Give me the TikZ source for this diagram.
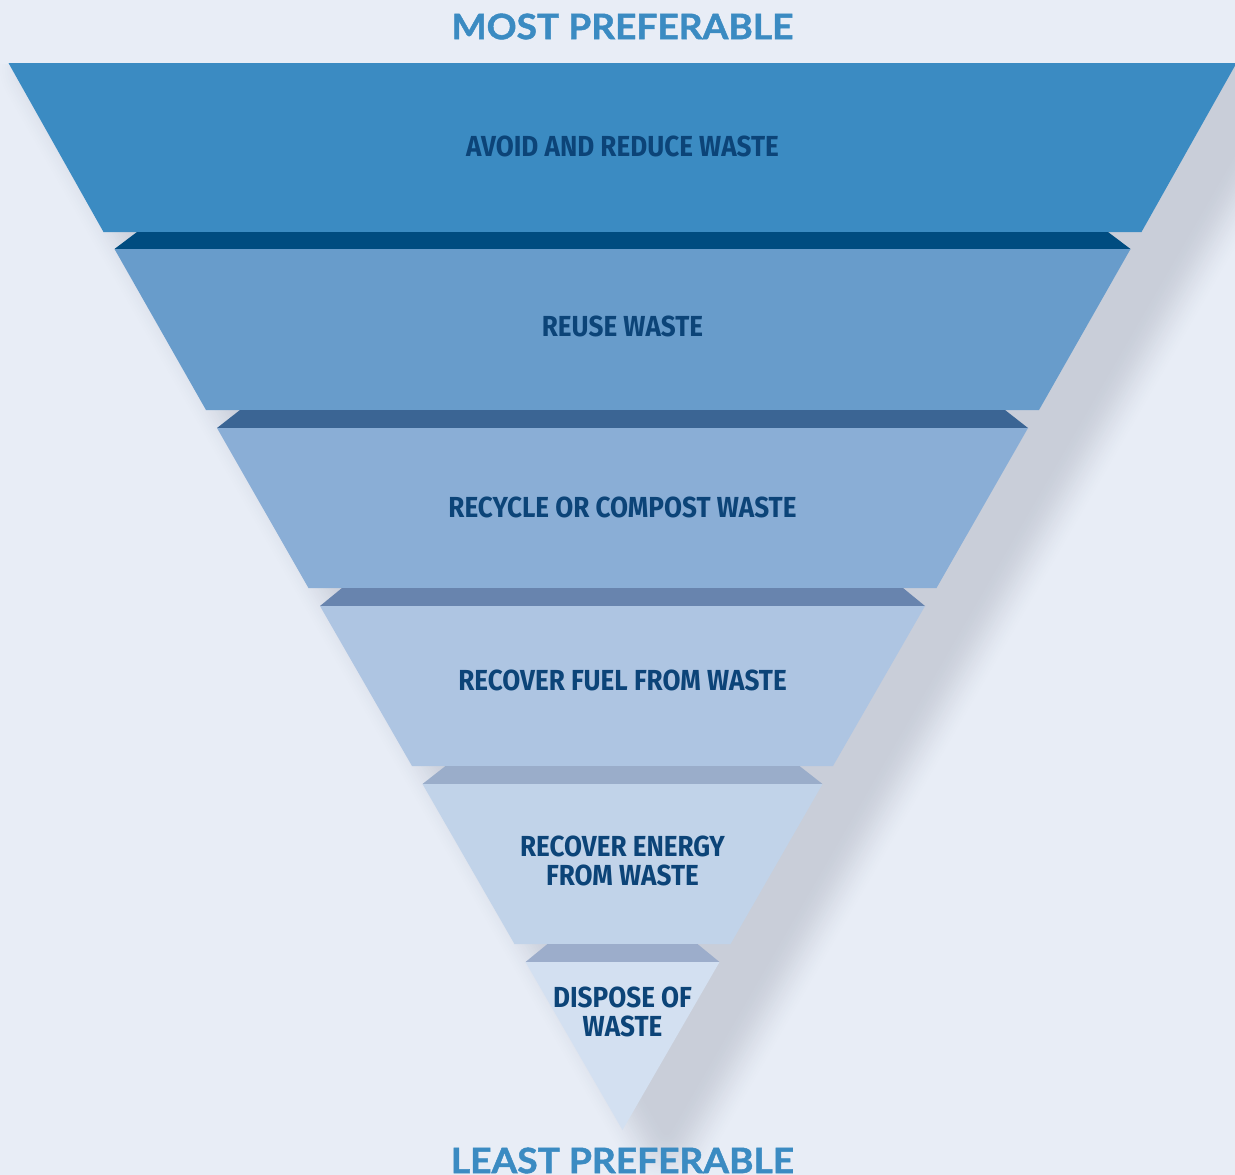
\documentclass[tikz,border=0pt]{standalone}
\usepackage{fontspec}
\newfontfamily\labelfont{Fira Sans}[FakeStretch=0.9]
\newfontfamily\titlefont{Lato}[FakeStretch=1.06, BoldFeatures={FakeBold=1.3}]

\definecolor{bgc}{HTML}{E8EDF6}
\definecolor{shadowc}{HTML}{C9CED9}
\definecolor{tierA}{HTML}{3B8BC2}
\definecolor{edgeA}{HTML}{004C80}
\definecolor{tierB}{HTML}{689CCB}
\definecolor{edgeB}{HTML}{3B6594}
\definecolor{tierC}{HTML}{8AAED6}
\definecolor{edgeC}{HTML}{6884AE}
\definecolor{tierD}{HTML}{AEC5E2}
\definecolor{edgeD}{HTML}{9AADCA}
\definecolor{tierE}{HTML}{C1D3E9}
\definecolor{edgeE}{HTML}{9CADCB}
\definecolor{tierF}{HTML}{D3E0F1}
\definecolor{labelc}{HTML}{0C4478}
\definecolor{titlec}{HTML}{3B8BC2}

% symmetric trapezoid about the axis: top y, bottom y, top half width, bottom half width, colour
\newcommand\tierband[5]{%
  \fill[#5] (622.5-#3,#1) -- (622.5+#3,#1) -- (622.5+#4,#2) -- (622.5-#4,#2) -- cycle;}

\begin{document}
\begin{tikzpicture}[x=1pt,y=-1pt,
  lbl/.style={text=labelc, inner sep=0pt, align=center,
    font=\labelfont\bfseries\fontsize{29}{29}\selectfont},
  ttl/.style={text=titlec, inner sep=0pt,
    font=\titlefont\bfseries\fontsize{35}{35}\selectfont}]

\fill[bgc] (0,0) rectangle (1235,1175);
\useasboundingbox (0,0) rectangle (1235,1175);

% soft drop shadow of the whole funnel
\begin{scope}
  \clip (0,64) rectangle (1235,1175);
  \foreach \k in {1,...,24}{
    \pgfmathsetmacro\w{2*55*(25-\k)/24}
    \pgfmathtruncatemacro\p{100*(3*(\k/24)^2-2*(\k/24)^3)}
    \filldraw[shadowc!\p!bgc, line width=\w pt, line join=round]
      (7+44,68) -- (1236+44,68) -- (622.5+44,1130) -- cycle;
  }
\end{scope}

% tiers and the bevelled strips between them
\tierband{63}{232}{614}{519}{tierA}
\tierband{232}{249}{485.5}{508}{edgeA}
\tierband{249}{410}{508}{416.5}{tierB}
\tierband{410}{428}{382.5}{405.5}{edgeB}
\tierband{428}{588}{405.5}{314}{tierC}
\tierband{588}{606}{280.5}{302.5}{edgeC}
\tierband{606}{766}{302.5}{210.5}{tierD}
\tierband{766}{784}{177}{200}{edgeD}
\tierband{784}{944}{200}{108}{tierE}
\tierband{944}{962}{75}{97}{edgeE}
\tierband{962}{1130}{97}{0}{tierF}

% tier labels
\node[lbl] (avoid)   at (622.5,146)   {AVOID AND REDUCE WASTE};
\node[lbl] (reuse)   at (622.5,326)   {REUSE WASTE};
\node[lbl] (recycle) at (622.5,507)   {RECYCLE OR COMPOST WASTE};
\node[lbl] (fuel)    at (622.5,680)   {RECOVER FUEL FROM WASTE};
\node[lbl] (energy)  at (622.5,860.5) {RECOVER ENERGY\\FROM WASTE};
\node[lbl] (dispose) at (622.5,1011.5){DISPOSE OF\\WASTE};

% end labels
\node[ttl] (most)  at (622.5,26.5)   {MOST PREFERABLE};
\node[ttl] (least) at (622.5,1160.5) {LEAST PREFERABLE};
\end{tikzpicture}
\end{document}
